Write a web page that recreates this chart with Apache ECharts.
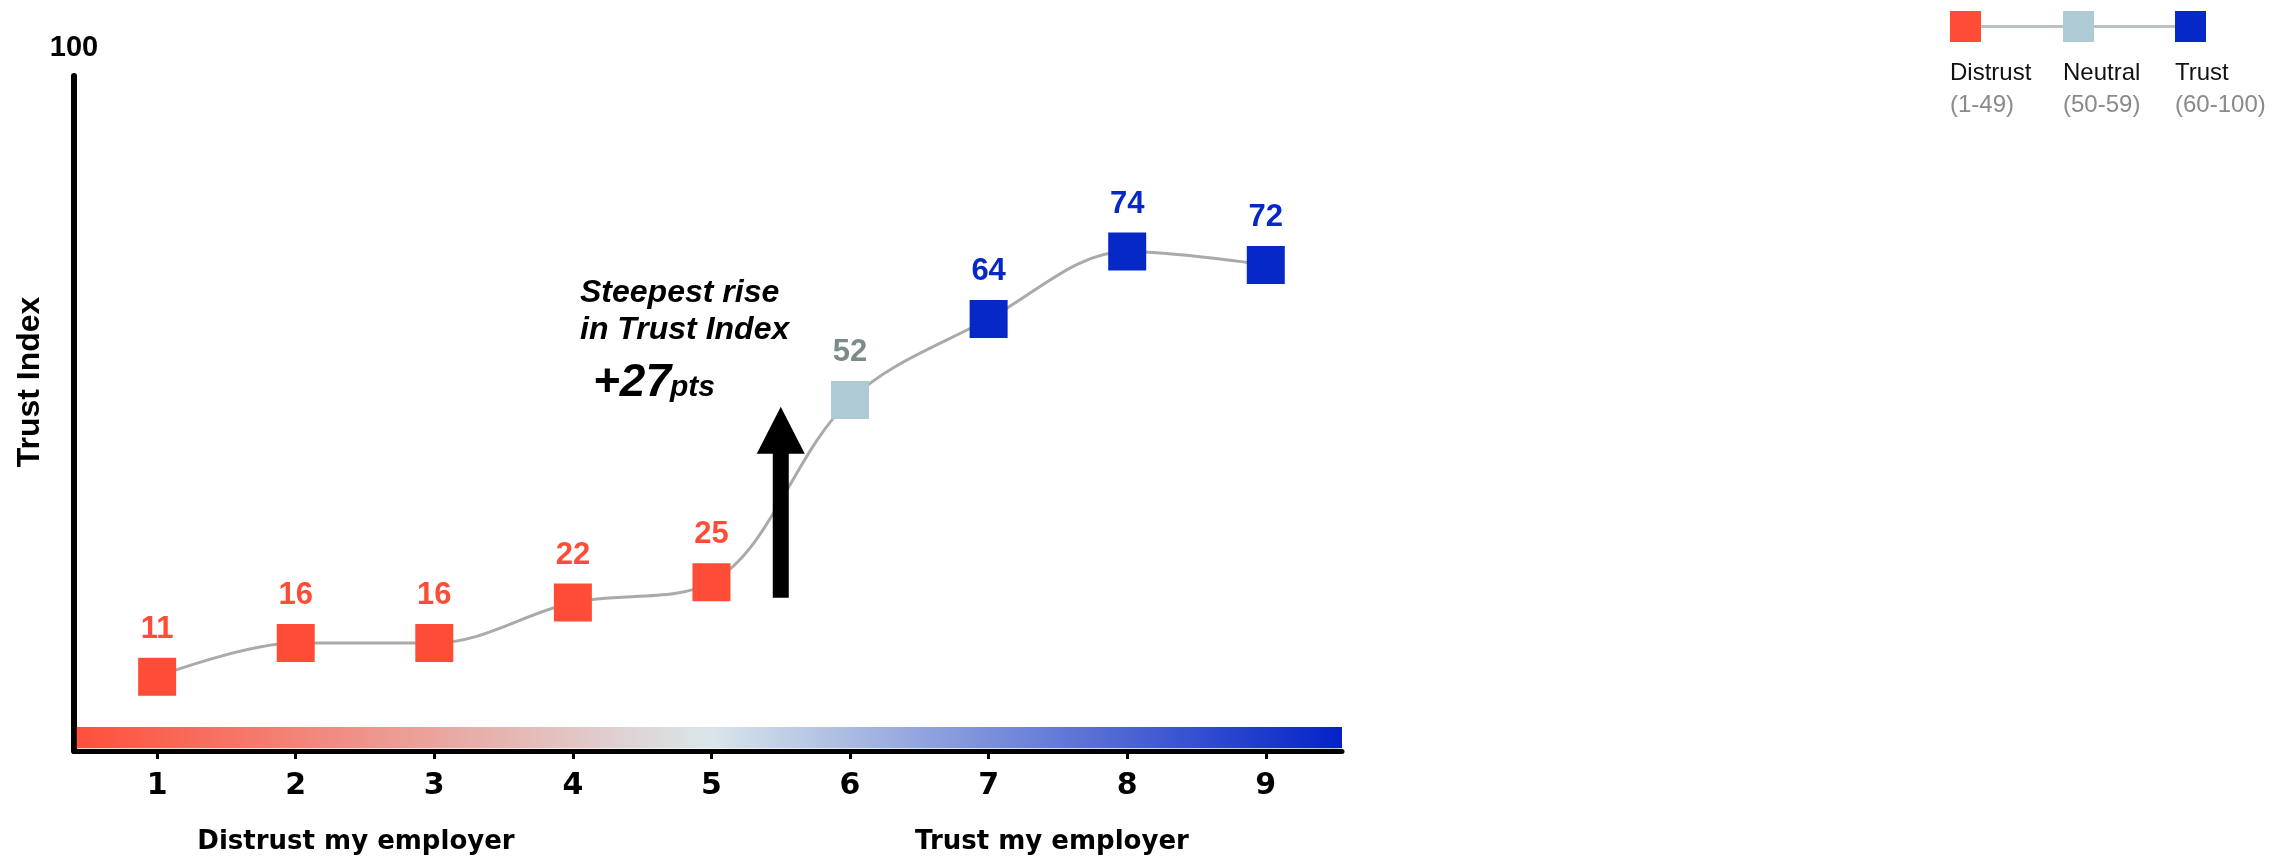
<!DOCTYPE html>
<html>
<head>
<meta charset="utf-8">
<script src="https://cdn.jsdelivr.net/npm/echarts@6/dist/echarts.min.js"></script>
<style>
  html, body { margin: 0; padding: 0; background: #fff; }
  #chart { width: 2287px; height: 860px; }
</style>
</head>
<body>
<div id="chart"></div>
<script>
// data
var scores = [1, 2, 3, 4, 5, 6, 7, 8, 9];
var trustIndex = [11, 16, 16, 22, 25, 52, 64, 74, 72];
var xTicks = [1, 2, 3, 4, 5, 6, 7, 8, 9];
var levelNames = ["Distrust", "Neutral", "Trust"];
var levelRanges = ["(1-49)", "(50-59)", "(60-100)"];
var levelMin = [1, 50, 60];
var axisEnds = ["Distrust my employer", "Trust my employer"];
var riseArrow = [5.5, 22.7, 51]; // x, from, to
var riseText = ["Steepest rise", "in Trust Index", "+27", "pts"];
var scaleBand = [0.42, 9.55, 0.4, 3.55]; // x from/to, y from/to

// styles
var levelColors = ["#ff4c37", "#aecad4", "#0628c6"];
var labelColors = ["#ff4c37", "#7b8b8b", "#0628c6"];
var boldSans = "Liberation Sans, Arial, sans-serif";
var wideSans = "DejaVu Sans, sans-serif";

function levelOf(v) {
  var k = 0;
  for (var i = 0; i < levelMin.length; i++) {
    if (v >= levelMin[i]) k = i;
  }
  return k;
}

var points = scores.map(function (s, i) {
  var k = levelOf(trustIndex[i]);
  return {
    value: [s, trustIndex[i]],
    itemStyle: { color: levelColors[k] },
    label: { color: labelColors[k] },
  };
});

var chart = echarts.init(document.getElementById("chart"), null, { renderer: "canvas" });

// custom legend
var legendItems = [];
var legendX = [1950, 2063, 2175];
legendItems.push({
  type: "line",
  shape: { x1: legendX[0] + 15, y1: 26.5, x2: legendX[2] + 15, y2: 26.5 },
  style: { stroke: "#b8c2c2", lineWidth: 3 },
  z: 1,
});
levelNames.forEach(function (n, i) {
  legendItems.push({
    type: "rect",
    shape: { x: legendX[i], y: 11, width: 31, height: 31 },
    style: { fill: levelColors[i] },
    z: 2,
  });
  legendItems.push({
    type: "text",
    x: legendX[i],
    y: 73,
    style: { text: n, fill: "#111", font: "24px " + boldSans, align: "left", verticalAlign: "middle" },
  });
  legendItems.push({
    type: "text",
    x: legendX[i],
    y: 105,
    style: { text: levelRanges[i], fill: "#8a8a8a", font: "24px " + boldSans, align: "left", verticalAlign: "middle" },
  });
});

var option = {
  animation: false,
  grid: { left: 74, right: 945, top: 76, bottom: 109, containLabel: false },
  xAxis: {
    type: "value",
    min: 0.4,
    max: 9.55,
    axisLine: { show: true, lineStyle: { color: "#000", width: 5 } },
    axisTick: { show: true, customValues: xTicks, length: 8, lineStyle: { color: "#000", width: 3 } },
    axisLabel: {
      customValues: xTicks,
      margin: 20,
      color: "#000",
      fontFamily: wideSans,
      fontWeight: "bold",
      fontSize: 30,
    },
    splitLine: { show: false },
  },
  yAxis: {
    type: "value",
    min: 0,
    max: 100,
    name: "100",
    nameLocation: "end",
    nameGap: 14,
    nameTextStyle: { color: "#000", fontFamily: boldSans, fontWeight: "bold", fontSize: 29 },
    axisLine: { show: true, lineStyle: { color: "#000", width: 6 } },
    axisTick: { show: false },
    axisLabel: { show: false },
    splitLine: { show: false },
  },
  series: [
    {
      type: "line",
      data: points,
      smooth: 0.35,
      symbol: "rect",
      symbolSize: 38,
      z: 3,
      lineStyle: { color: "#aaaaaa", width: 3 },
      label: {
        show: true,
        position: "top",
        distance: 13,
        fontFamily: boldSans,
        fontWeight: "bold",
        fontSize: 31,
      },
      markArea: {
        silent: true,
        itemStyle: {
          color: new echarts.graphic.LinearGradient(0, 0, 1, 0, [
            { offset: 0, color: "#ff4f3b" },
            { offset: 0.5, color: "#dae6ea" },
            { offset: 1, color: "#0322c8" },
          ]),
        },
        data: [[
          { xAxis: scaleBand[0], yAxis: scaleBand[2] },
          { xAxis: scaleBand[1], yAxis: scaleBand[3] },
        ]],
      },
    },
    {
      type: "custom",
      z: 5,
      data: [riseArrow],
      renderItem: function (params, api) {
        var b = api.coord([api.value(0), api.value(1)]);
        var t = api.coord([api.value(0), api.value(2)]);
        var sw = 8, hw = 24, hh = 47;
        return {
          type: "polygon",
          shape: {
            points: [
              [b[0] - sw, b[1]],
              [b[0] - sw, t[1] + hh],
              [b[0] - hw, t[1] + hh],
              [t[0], t[1]],
              [b[0] + hw, t[1] + hh],
              [b[0] + sw, t[1] + hh],
              [b[0] + sw, b[1]],
            ],
          },
          style: { fill: "#000" },
        };
      },
    },
  ],
  graphic: legendItems.concat([
    {
      type: "text",
      x: 30,
      y: 382,
      rotation: Math.PI / 2,
      style: { text: "Trust Index", fill: "#000", font: "bold 32px " + boldSans, align: "center", verticalAlign: "middle" },
    },
    {
      type: "text",
      x: 356,
      y: 842,
      style: { text: axisEnds[0], fill: "#000", font: "bold 26px " + wideSans, align: "center", verticalAlign: "middle" },
    },
    {
      type: "text",
      x: 1052,
      y: 842,
      style: { text: axisEnds[1], fill: "#000", font: "bold 26px " + wideSans, align: "center", verticalAlign: "middle" },
    },
    {
      type: "text",
      x: 580,
      y: 293,
      style: { text: riseText[0], fill: "#000", font: "italic bold 32px " + boldSans, align: "left", verticalAlign: "middle" },
    },
    {
      type: "text",
      x: 580,
      y: 330,
      style: { text: riseText[1], fill: "#000", font: "italic bold 32px " + boldSans, align: "left", verticalAlign: "middle" },
    },
    {
      type: "text",
      x: 593,
      y: 383,
      style: { text: riseText[2], fill: "#000", font: "italic bold 46px " + boldSans, align: "left", verticalAlign: "middle" },
    },
    {
      type: "text",
      x: 670,
      y: 388,
      style: { text: riseText[3], fill: "#000", font: "italic bold 30px " + boldSans, align: "left", verticalAlign: "middle" },
    },
  ]),
};

chart.setOption(option);
</script>
</body>
</html>
